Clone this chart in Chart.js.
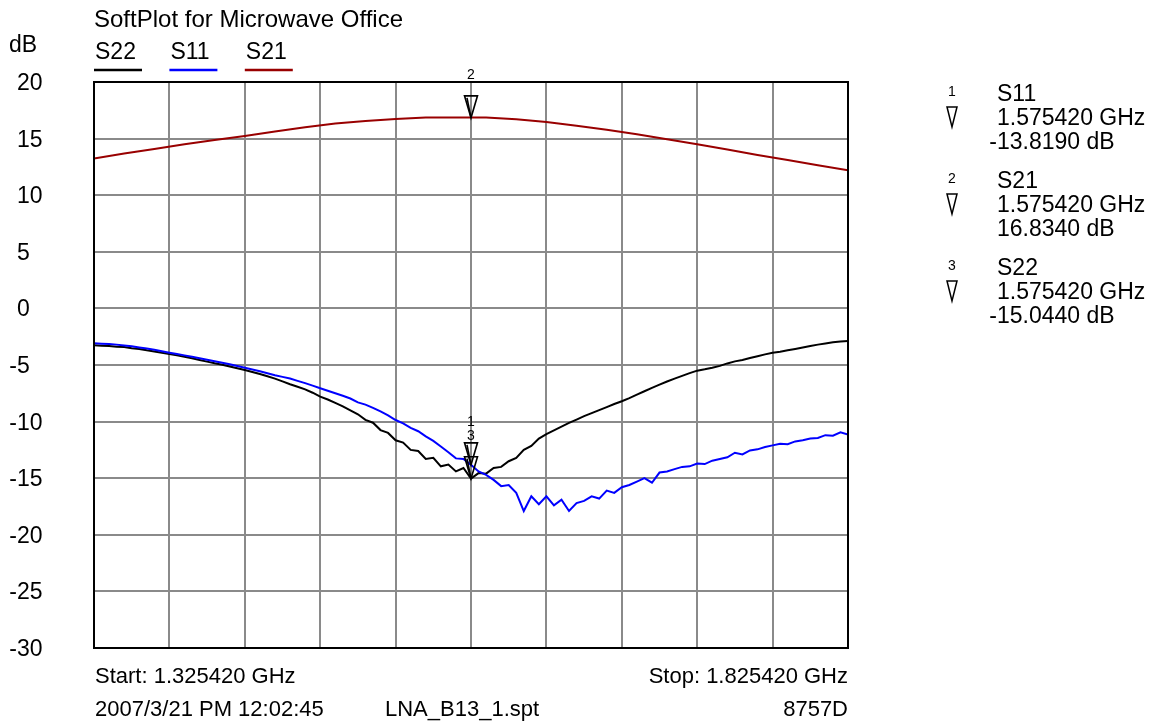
<!DOCTYPE html>
<html><head><meta charset="utf-8">
<script src="https://cdn.jsdelivr.net/npm/chart.js@4.4.0/dist/chart.umd.min.js"></script>
<style>html,body{margin:0;padding:0;background:#fff;overflow:hidden}</style>
</head><body>
<canvas id="c" width="1162" height="724"></canvas>
<script>
// ---------- data (frequency in MHz, values in dB) ----------
const freqMHz = [
1325.42,1330.42,1335.42,1340.42,1345.42,1350.42,1355.42,1360.42,1365.42,1370.42,
1375.42,1380.42,1385.42,1390.42,1395.42,1400.42,1405.42,1410.42,1415.42,1420.42,
1425.42,1430.42,1435.42,1440.42,1445.42,1450.42,1455.42,1460.42,1465.42,1470.42,
1475.42,1480.42,1485.42,1490.42,1495.42,1500.42,1505.42,1510.42,1515.42,1520.42,
1525.42,1530.42,1535.42,1540.42,1545.42,1550.42,1555.42,1560.42,1565.42,1570.42,
1575.42,1580.42,1585.42,1590.42,1595.42,1600.42,1605.42,1610.42,1615.42,1620.42,
1625.42,1630.42,1635.42,1640.42,1645.42,1650.42,1655.42,1660.42,1665.42,1670.42,
1675.42,1680.42,1685.42,1690.42,1695.42,1700.42,1705.42,1710.42,1715.42,1720.42,
1725.42,1730.42,1735.42,1740.42,1745.42,1750.42,1755.42,1760.42,1765.42,1770.42,
1775.42,1780.42,1785.42,1790.42,1795.42,1800.42,1805.42,1810.42,1815.42,1820.42,
1825.42];
const s22 = [
-3.26,-3.30,-3.33,-3.38,-3.42,-3.52,-3.58,-3.70,-3.80,-3.92,
-4.03,-4.15,-4.28,-4.40,-4.55,-4.70,-4.85,-4.98,-5.13,-5.28,
-5.44,-5.62,-5.80,-6.00,-6.20,-6.45,-6.70,-6.92,-7.15,-7.45,
-7.80,-8.05,-8.35,-8.65,-9.00,-9.35,-9.85,-10.10,-10.75,-11.00,
-11.65,-11.85,-12.50,-12.60,-13.30,-13.20,-13.95,-13.80,-14.40,-14.10,
-15.04,-14.55,-14.60,-14.10,-14.00,-13.50,-13.20,-12.50,-12.15,-11.50,
-11.10,-10.78,-10.45,-10.12,-9.82,-9.52,-9.25,-8.98,-8.72,-8.45,
-8.20,-7.92,-7.62,-7.32,-7.02,-6.74,-6.46,-6.20,-5.96,-5.72,
-5.50,-5.38,-5.24,-5.08,-4.86,-4.68,-4.55,-4.38,-4.22,-4.06,
-3.91,-3.82,-3.70,-3.58,-3.45,-3.32,-3.20,-3.10,-3.00,-2.92,
-2.88];
const s11 = [
-3.08,-3.12,-3.15,-3.20,-3.27,-3.35,-3.45,-3.55,-3.66,-3.78,
-3.91,-4.03,-4.15,-4.27,-4.40,-4.53,-4.66,-4.80,-4.94,-5.09,
-5.24,-5.40,-5.56,-5.73,-5.90,-6.05,-6.20,-6.40,-6.60,-6.82,
-7.05,-7.28,-7.50,-7.72,-7.96,-8.30,-8.50,-8.78,-9.10,-9.45,
-9.86,-10.15,-10.55,-10.85,-11.30,-11.70,-12.20,-12.70,-13.25,-13.30,
-13.82,-14.40,-14.70,-15.15,-15.70,-15.60,-16.30,-17.90,-16.60,-17.30,
-16.60,-17.40,-16.90,-17.90,-17.20,-17.00,-16.60,-16.80,-16.10,-16.30,
-15.80,-15.60,-15.30,-15.00,-15.40,-14.50,-14.40,-14.20,-14.00,-13.95,
-13.70,-13.75,-13.45,-13.30,-13.15,-12.75,-12.90,-12.55,-12.45,-12.25,
-12.10,-11.95,-12.00,-11.75,-11.65,-11.50,-11.45,-11.20,-11.25,-10.95,
-11.15];
const freq21MHz = [1325.42,1345.42,1365.42,1385.42,1405.42,1425.42,1445.42,1465.42,1485.42,1505.42,
1525.42,1545.42,1565.42,1585.42,1605.42,1625.42,1645.42,1665.42,1685.42,1705.42,
1725.42,1745.42,1765.42,1785.42,1805.42,1825.42];
const s21 = [13.25,13.68,14.08,14.50,14.88,15.23,15.62,16.00,16.33,16.55,
16.73,16.86,16.86,16.86,16.72,16.47,16.14,15.78,15.38,14.95,
14.50,14.04,13.56,13.10,12.65,12.20];

const seriesNames = ['S22','S11','S21'];
const seriesColors = ['#000000','#0000ff','#990000'];
const xGrid = [1325.42,1375.42,1425.42,1475.42,1525.42,1575.42,1625.42,1675.42,1725.42,1775.42,1825.42];
const yTicks = [20,15,10,5,0,-5,-10,-15,-20,-25,-30];

const markerIds = ['1','2','3'];
const markerTraces = ['S11','S21','S22'];
const markerFreqMHz = [1575.42,1575.42,1575.42];
const markerVals = [-13.819,16.834,-15.044];
const markerFreqText = ['1.575420 GHz','1.575420 GHz','1.575420 GHz'];
const markerValText = ['-13.8190 dB','16.8340 dB','-15.0440 dB'];

const titleText = 'SoftPlot for Microwave Office';
const unitText = 'dB';
const startText = 'Start: 1.325420 GHz';
const stopText = 'Stop: 1.825420 GHz';
const dateText = '2007/3/21 PM 12:02:45';
const fileText = 'LNA_B13_1.spt';
const instText = '8757D';

// ---------- drawing ----------
const FONT = '"Liberation Sans", Arial, sans-serif';
const pts = (xs, ys) => xs.map((x, i) => ({x: x, y: ys[i]}));

const deco = {
  id: 'deco',
  afterDatasetsDraw(chart) {
    const ctx = chart.ctx, a = chart.chartArea, xs = chart.scales.x, ys = chart.scales.y;
    ctx.save();
    // frame
    ctx.strokeStyle = '#000'; ctx.lineWidth = 2;
    ctx.strokeRect(a.left, a.top, a.right - a.left, a.bottom - a.top);

    // markers on traces
    ctx.lineWidth = 1.6; ctx.strokeStyle = '#000'; ctx.fillStyle = '#000';
    for (let i = 0; i < markerIds.length; i++) {
      const px = xs.getPixelForValue(markerFreqMHz[i]);
      const py = ys.getPixelForValue(markerVals[i]);
      ctx.beginPath();
      ctx.moveTo(px, py); ctx.lineTo(px - 6.5, py - 22); ctx.lineTo(px + 6.5, py - 22); ctx.closePath();
      ctx.stroke();
      ctx.beginPath();
      ctx.moveTo(px, py); ctx.lineTo(px - 4, py - 20);
      ctx.stroke();
      ctx.font = '14px ' + FONT; ctx.textAlign = 'center'; ctx.textBaseline = 'middle';
      ctx.fillText(markerIds[i], px, py - 43);
    }

    ctx.textBaseline = 'alphabetic';
    ctx.fillStyle = '#000';
    // title & unit
    ctx.textAlign = 'left';
    ctx.font = '24px ' + FONT;
    ctx.fillText(titleText, a.left, 27);
    ctx.font = '23px ' + FONT;
    ctx.fillText(unitText, 9, 52);
    // legend
    for (let k = 0; k < seriesNames.length; k++) {
      const lx = xs.getPixelForValue(xGrid[k]);
      ctx.fillStyle = '#000';
      ctx.fillText(seriesNames[k], lx + 1, 59);
      ctx.strokeStyle = seriesColors[k]; ctx.lineWidth = 2.5;
      ctx.beginPath(); ctx.moveTo(lx, 70); ctx.lineTo(lx + 48, 70); ctx.stroke();
    }
    // y tick labels
    ctx.fillStyle = '#000';
    for (const v of yTicks) {
      const y = ys.getPixelForValue(v) + 8;
      ctx.textAlign = 'left';
      ctx.fillText(String(Math.abs(v)), 17, y);
      if (v < 0) { ctx.textAlign = 'right'; ctx.fillText('-', 17, y); }
    }
    // bottom texts
    ctx.font = '22px ' + FONT;
    ctx.textAlign = 'left';
    ctx.fillText(startText, a.left + 1, 683);
    ctx.fillText(dateText, a.left + 1, 716);
    ctx.fillText(fileText, 385, 716);
    ctx.textAlign = 'right';
    ctx.fillText(stopText, a.right, 683);
    ctx.fillText(instText, a.right, 716);

    // marker readouts at right
    for (let i = 0; i < markerIds.length; i++) {
      const base = 101 + i * 87;   // baseline of trace-name row
      ctx.font = '14px ' + FONT; ctx.textAlign = 'center';
      ctx.fillText(markerIds[i], 952, base - 5);
      ctx.strokeStyle = '#000'; ctx.lineWidth = 1.5;
      ctx.beginPath();
      ctx.moveTo(947, base + 6); ctx.lineTo(957, base + 6); ctx.lineTo(952, base + 26); ctx.closePath();
      ctx.stroke();
      ctx.font = '23px ' + FONT; ctx.textAlign = 'left';
      ctx.fillText(markerTraces[i], 997, base);
      ctx.fillText(markerFreqText[i], 997, base + 24);
      const vt = markerValText[i];
      if (vt.startsWith('-')) { ctx.fillText(vt.slice(1), 997, base + 48); ctx.textAlign = 'right'; ctx.fillText('-', 997, base + 48); }
      else ctx.fillText(vt, 997, base + 48);
    }
    ctx.restore();
  }
};

new Chart(document.getElementById('c'), {
  type: 'line',
  data: {
    datasets: [
      {label: seriesNames[0], data: pts(freqMHz, s22), borderColor: seriesColors[0], order: 1},
      {label: seriesNames[1], data: pts(freqMHz, s11), borderColor: seriesColors[1], order: 0},
      {label: seriesNames[2], data: pts(freq21MHz, s21), borderColor: seriesColors[2], order: 2}
    ]
  },
  options: {
    responsive: false, animation: false, devicePixelRatio: 1,
    layout: {padding: {left: 94, right: 314, top: 82, bottom: 76}},
    elements: {line: {borderWidth: 2, tension: 0, fill: false}, point: {radius: 0}},
    plugins: {legend: {display: false}, tooltip: {enabled: false}},
    scales: {
      x: {
        type: 'linear', min: xGrid[0], max: xGrid[xGrid.length - 1],
        afterBuildTicks: s => { s.ticks = xGrid.map(v => ({value: v})); },
        afterFit: s => { s.height = 0; },
        ticks: {display: false},
        border: {display: false},
        grid: {color: '#8a8a8a', lineWidth: 2, drawTicks: false}
      },
      y: {
        type: 'linear', min: yTicks[yTicks.length - 1], max: yTicks[0],
        afterBuildTicks: s => { s.ticks = yTicks.map(v => ({value: v})); },
        afterFit: s => { s.width = 0; },
        ticks: {display: false},
        border: {display: false},
        grid: {color: '#8a8a8a', lineWidth: 2, drawTicks: false}
      }
    }
  },
  plugins: [deco]
});
</script>
</body></html>
